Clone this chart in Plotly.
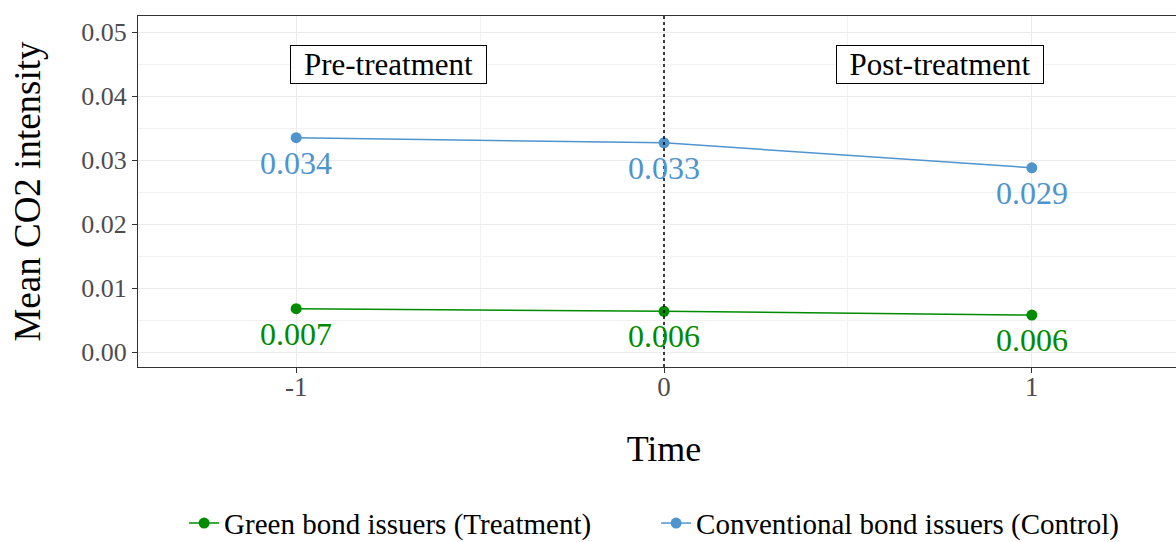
import plotly.graph_objects as go

time = [-1, 0, 1]
green_vals = [0.0068, 0.0064, 0.0058]
blue_vals = [0.0335, 0.0327, 0.0288]
green_labels = ["0.007", "0.006", "0.006"]
blue_labels = ["0.034", "0.033", "0.029"]
green_name = "Green bond issuers (Treatment)"
blue_name = "Conventional bond issuers (Control)"
period_labels = ["Pre-treatment", "Post-treatment"]
period_x = [-0.75, 0.75]
period_y = [0.0449, 0.0449]

GREEN = "#008B00"
BLUE = "#4F94CD"
FONT = "Liberation Serif"

fig = go.Figure()
fig.add_trace(go.Scatter(x=time, y=green_vals, mode="lines+markers", name=green_name,
                         line=dict(color=GREEN, width=1.5), marker=dict(size=11, color=GREEN)))
fig.add_trace(go.Scatter(x=time, y=blue_vals, mode="lines+markers", name=blue_name,
                         line=dict(color=BLUE, width=1.5), marker=dict(size=11, color=BLUE)))

for x, y, t in zip(time, green_vals, green_labels):
    fig.add_annotation(x=x, y=y, text=t, showarrow=False, yshift=-25,
                       font=dict(family=FONT, size=32, color=GREEN))
for x, y, t in zip(time, blue_vals, blue_labels):
    fig.add_annotation(x=x, y=y, text=t, showarrow=False, yshift=-25,
                       font=dict(family=FONT, size=32, color=BLUE))
for x, y, t, w in zip(period_x, period_y, period_labels, [193, 204]):
    fig.add_annotation(x=x, y=y, text=t, showarrow=False, width=w,
                       font=dict(family=FONT, size=31, color="black"),
                       bordercolor="black", borderwidth=1, borderpad=1, bgcolor="white")

fig.add_vline(x=0, line=dict(color="black", width=1.5, dash="dot"))

fig.update_layout(
    width=1200, height=542,
    margin=dict(l=138, r=10, t=16, b=175, autoexpand=False),
    paper_bgcolor="white", plot_bgcolor="white",
    font=dict(family=FONT, color="black"),
    showlegend=True,
    legend=dict(orientation="h", x=0.4925, xanchor="center", y=-0.445, yanchor="middle",
                entrywidth=427, entrywidthmode="pixels", itemwidth=30,
                font=dict(family=FONT, size=29, color="black")),
)
fig.update_xaxes(range=[-1.43, 1.43], tickvals=time, ticktext=["-1", "0", "1"],
                 showgrid=True, gridcolor="#EBEBEB", gridwidth=1.2,
                 minor=dict(dtick=0.5, tick0=0.5, showgrid=True, gridcolor="#F2F2F2", gridwidth=0.8),
                 zeroline=False, showline=True, linecolor="#333333", linewidth=1, mirror=True,
                 ticks="outside", ticklen=5, tickcolor="#333333", ticklabelstandoff=-9,
                 tickfont=dict(family=FONT, size=27, color="#4D4D4D"),
                 title=dict(text="Time", font=dict(family=FONT, size=36, color="black"), standoff=34))
fig.update_yaxes(range=[-0.0023, 0.0525], tickvals=[0, 0.01, 0.02, 0.03, 0.04, 0.05],
                 tickformat=".2f",
                 showgrid=True, gridcolor="#EBEBEB", gridwidth=1.2,
                 minor=dict(dtick=0.005, tick0=0.005, showgrid=True, gridcolor="#F2F2F2", gridwidth=0.8),
                 zeroline=False, showline=True, linecolor="#333333", linewidth=1, mirror=True,
                 ticks="outside", ticklen=5, tickcolor="#333333",
                 tickfont=dict(family=FONT, size=26, color="#4D4D4D"),
                 title=dict(text="Mean CO2 intensity", font=dict(family=FONT, size=37, color="black"), standoff=29))

fig.write_html("out.html", config={"displayModeBar": False},
               post_script="document.body.style.margin='0';document.body.style.overflow='hidden';")
